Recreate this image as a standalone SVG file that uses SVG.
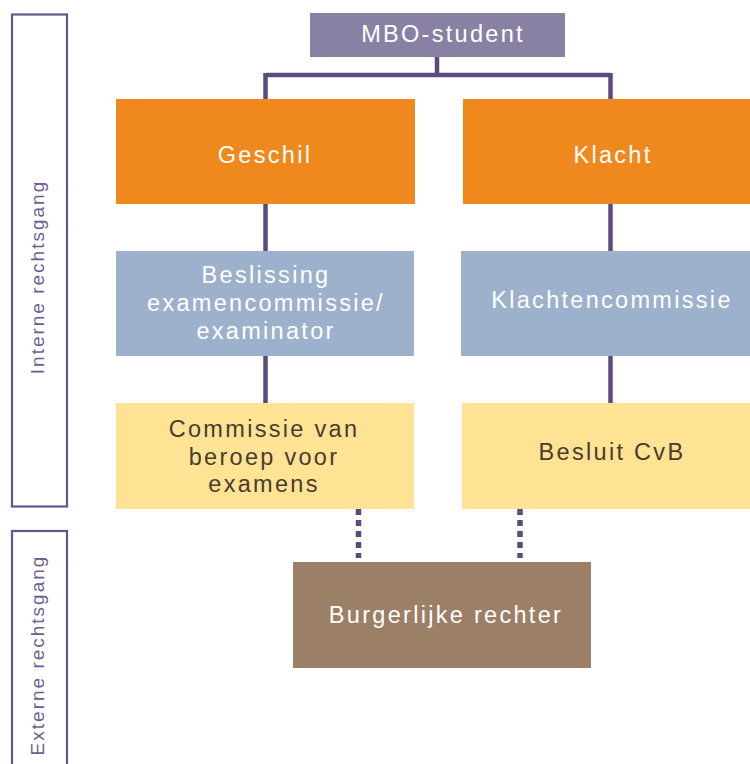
<svg xmlns="http://www.w3.org/2000/svg" width="750" height="764" viewBox="0 0 750 764">
<style>
.t{font-family:"Liberation Sans",Arial,sans-serif;font-size:23.5px;letter-spacing:2.3px;text-anchor:middle}
.w{fill:#ffffff}
.d{fill:#4a3b2c}
.side{font-family:"Liberation Sans",Arial,sans-serif;font-size:19px;letter-spacing:2px;fill:#6e5d90;text-anchor:middle}
.frame{fill:none;stroke:#66558a;stroke-width:2.2}
.con{fill:none;stroke:#5c4a7e;stroke-width:4.5}
.dot{fill:none;stroke:#5c4a7e;stroke-width:5.5;stroke-dasharray:6 5}
</style>
<rect width="750" height="764" fill="#ffffff"/>
<g id="side-intern">
<rect class="frame" x="12" y="14.5" width="55" height="492"/>
<text class="side" transform="translate(44,277) rotate(-90)">Interne rechtsgang</text>
</g>
<g id="side-extern">
<rect class="frame" x="12" y="531" width="55" height="250"/>
<text class="side" transform="translate(44,655) rotate(-90)">Externe rechtsgang</text>
</g>
<g id="connectors">
<path class="con" d="M437,57 V75 M265.5,75 H610.5 M265.5,73 V99 M610.5,73 V99"/>
<path class="con" d="M265.5,204 V251 M610.5,204 V251"/>
<path class="con" d="M265.5,356 V403 M610.5,356 V403"/>
<path class="dot" d="M358.5,509 V558"/>
<path class="dot" d="M520,509 V558"/>
</g>
<g id="mbo">
<rect x="310" y="13" width="255" height="44" fill="#8881a4"/>
<text class="t w" x="443" y="42">MBO-student</text>
</g>
<g id="geschil">
<rect x="116" y="99" width="299" height="105" fill="#ef891e"/>
<text class="t w" x="265" y="163">Geschil</text>
</g>
<g id="klacht">
<rect x="463" y="99" width="287" height="105" fill="#ef891e"/>
<text class="t w" x="613" y="163">Klacht</text>
</g>
<g id="beslissing">
<rect x="116" y="251" width="298" height="105" fill="#9db1cc"/>
<text class="t w" x="266" y="283">Beslissing</text>
<text class="t w" x="266" y="311">examencommissie/</text>
<text class="t w" x="266" y="339">examinator</text>
</g>
<g id="klachtencommissie">
<rect x="461" y="251" width="289" height="105" fill="#9db1cc"/>
<text class="t w" x="612" y="308">Klachtencommissie</text>
</g>
<g id="commissie-beroep">
<rect x="116" y="403" width="298" height="106" fill="#fee395"/>
<text class="t d" x="264" y="437">Commissie van</text>
<text class="t d" x="264" y="465">beroep voor</text>
<text class="t d" x="264" y="492">examens</text>
</g>
<g id="besluit-cvb">
<rect x="462" y="403" width="288" height="106" fill="#fee395"/>
<text class="t d" x="612" y="460">Besluit CvB</text>
</g>
<g id="burgerlijke-rechter">
<rect x="293" y="562" width="298" height="106" fill="#9b7f66"/>
<text class="t w" x="446" y="623">Burgerlijke rechter</text>
</g>
</svg>
